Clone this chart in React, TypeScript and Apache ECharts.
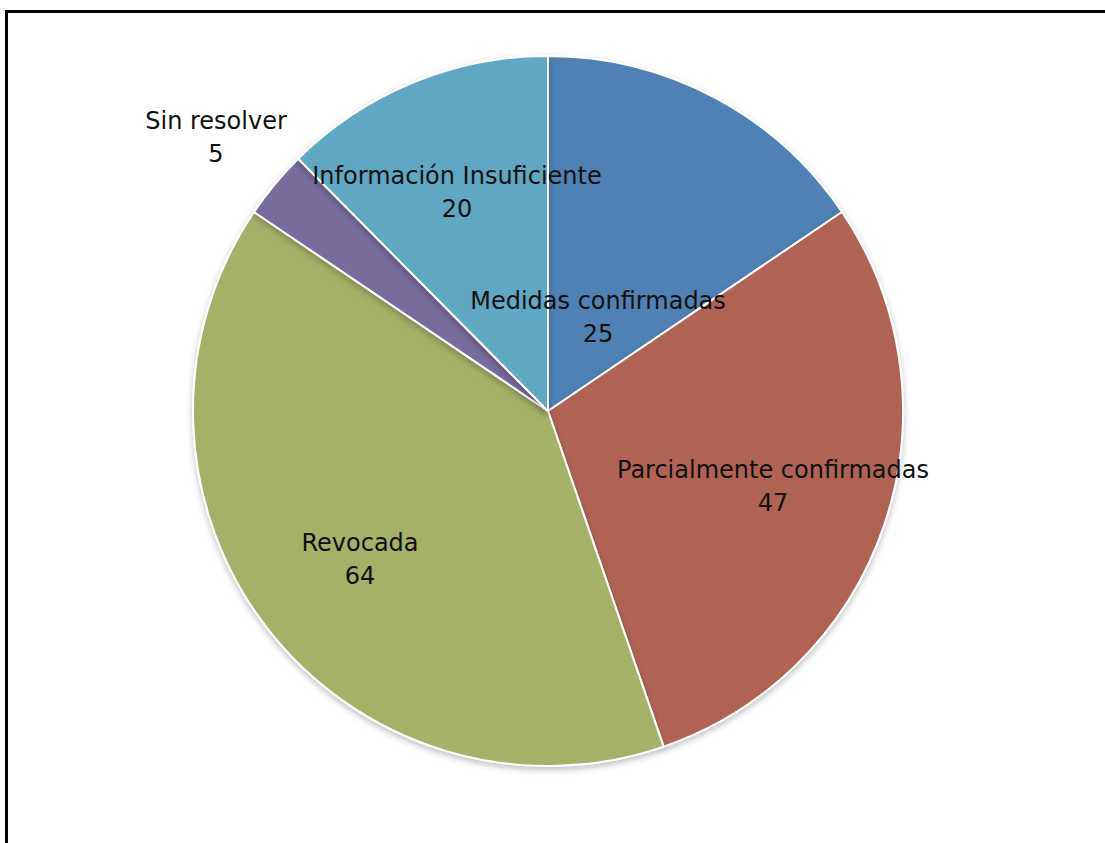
import React, { useEffect, useRef } from "react";
import * as echarts from "echarts";

const categories = [
  "Medidas confirmadas",
  "Parcialmente confirmadas",
  "Revocada",
  "Sin resolver",
  "Información Insuficiente",
];
const values = [25, 47, 64, 5, 20];
const colors = ["#4F81B4", "#B06455", "#A5B069", "#786C9C", "#5FA7C3"];
// label block centres (page pixels)
const labelPos: [number, number][] = [
  [598, 317],
  [773, 486],
  [360, 559],
  [216, 137],
  [457, 192],
];

export default function App() {
  const ref = useRef<HTMLDivElement>(null);
  useEffect(() => {
    if (!ref.current) return;
    const chart = echarts.init(ref.current, undefined, { renderer: "svg" });
    chart.setOption({
      animation: false,
      backgroundColor: "#ffffff",
      graphic: [
        { type: "rect", shape: { x: 5, y: 10, width: 1100, height: 3 }, style: { fill: "#000" } },
        { type: "rect", shape: { x: 5, y: 10, width: 3, height: 833 }, style: { fill: "#000" } },
      ],
      series: [
        {
          type: "pie",
          center: [548, 411],
          radius: [0, 355],
          startAngle: 90,
          clockwise: true,
          avoidLabelOverlap: false,
          silent: true,
          itemStyle: {
            borderColor: "#ffffff",
            borderWidth: 2,
            shadowColor: "rgba(0,0,0,0.25)",
            shadowBlur: 6,
            shadowOffsetY: 3,
          },
          label: {
            show: true,
            position: "inside",
            formatter: "{b}\n{c}",
            fontFamily: "'DejaVu Sans', sans-serif",
            fontWeight: "normal",
            fontSize: 24,
            lineHeight: 33,
            color: "#111111",
            align: "center",
            verticalAlign: "middle",
          },
          labelLine: { show: false },
          labelLayout: (params: any) => {
            const p = labelPos[params.dataIndex];
            return { x: p[0], y: p[1], align: "center", verticalAlign: "middle" };
          },
          data: categories.map((name, i) => ({
            name,
            value: values[i],
            itemStyle: { color: colors[i] },
          })),
        },
      ],
    });
    return () => chart.dispose();
  }, []);
  return (
    <div
      ref={ref}
      style={{ position: "fixed", left: 0, top: 0, width: 1105, height: 843 }}
    />
  );
}
